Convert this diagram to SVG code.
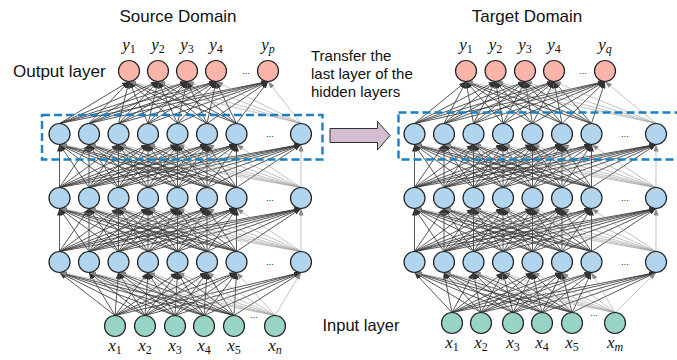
<svg xmlns="http://www.w3.org/2000/svg" xmlns:xlink="http://www.w3.org/1999/xlink" width="677" height="360" viewBox="0 0 677 360">
<style>
.o{fill:#fab5ab;stroke:#222;stroke-width:1.2}
.h{fill:#b1d4ef;stroke:#222;stroke-width:1.2}
.i{fill:#98d4c6;stroke:#222;stroke-width:1.2}
.sans{font-family:"Liberation Sans",Arial,sans-serif;fill:#111}
.lab{font-family:"Liberation Serif","Times New Roman",serif;font-size:17px;text-anchor:middle;fill:#111}
.v{font-style:italic}
.sb{font-size:12px}
.dots{font-family:"Liberation Sans",Arial,sans-serif;font-size:9px;text-anchor:middle;fill:#111}
.box{fill:none;stroke:#1b7fc2;stroke-width:2.4;stroke-dasharray:8 4}
</style>
<defs>
<marker id="ah" markerUnits="userSpaceOnUse" markerWidth="7" markerHeight="5" refX="7" refY="2.5" orient="auto"><path d="M0,0L7,2.5L0,5z" fill="#333"/></marker>
<marker id="al" markerUnits="userSpaceOnUse" markerWidth="7" markerHeight="5" refX="7" refY="2.5" orient="auto"><path d="M0,0L7,2.5L0,5z" fill="#888"/></marker>
<g id="hh">
<g fill="none" stroke="#3a3a3a" stroke-width="0.85" marker-end="url(#ah)">
<path d="M59.5 251.5L59.5 208.5"/><path d="M59.5 251.5L89 208.5"/><path d="M59.5 251.5L118.5 208.5"/><path d="M59.5 251.5L148 208.5"/><path d="M59.5 251.5L177.5 208.5"/><path d="M59.5 251.5L207 208.5"/><path d="M59.5 251.5L236.5 208.5"/><path d="M59.5 251.5L301 208.5"/>
<path d="M89 251.5L59.5 208.5"/><path d="M89 251.5L89 208.5"/><path d="M89 251.5L118.5 208.5"/><path d="M89 251.5L148 208.5"/><path d="M89 251.5L177.5 208.5"/><path d="M89 251.5L207 208.5"/><path d="M89 251.5L236.5 208.5"/><path d="M89 251.5L301 208.5"/>
<path d="M118.5 251.5L59.5 208.5"/><path d="M118.5 251.5L89 208.5"/><path d="M118.5 251.5L118.5 208.5"/><path d="M118.5 251.5L148 208.5"/><path d="M118.5 251.5L177.5 208.5"/><path d="M118.5 251.5L207 208.5"/><path d="M118.5 251.5L236.5 208.5"/><path d="M118.5 251.5L301 208.5"/>
<path d="M148 251.5L59.5 208.5"/><path d="M148 251.5L89 208.5"/><path d="M148 251.5L118.5 208.5"/><path d="M148 251.5L148 208.5"/><path d="M148 251.5L177.5 208.5"/><path d="M148 251.5L207 208.5"/><path d="M148 251.5L236.5 208.5"/><path d="M148 251.5L301 208.5"/>
<path d="M177.5 251.5L59.5 208.5"/><path d="M177.5 251.5L89 208.5"/><path d="M177.5 251.5L118.5 208.5"/><path d="M177.5 251.5L148 208.5"/><path d="M177.5 251.5L177.5 208.5"/><path d="M177.5 251.5L207 208.5"/><path d="M177.5 251.5L236.5 208.5"/><path d="M177.5 251.5L301 208.5"/>
<path d="M207 251.5L59.5 208.5"/><path d="M207 251.5L89 208.5"/><path d="M207 251.5L118.5 208.5"/><path d="M207 251.5L148 208.5"/><path d="M207 251.5L177.5 208.5"/><path d="M207 251.5L207 208.5"/><path d="M207 251.5L236.5 208.5"/><path d="M207 251.5L301 208.5"/>
<path d="M236.5 251.5L59.5 208.5"/><path d="M236.5 251.5L89 208.5"/><path d="M236.5 251.5L118.5 208.5"/><path d="M236.5 251.5L148 208.5"/><path d="M236.5 251.5L177.5 208.5"/><path d="M236.5 251.5L207 208.5"/><path d="M236.5 251.5L236.5 208.5"/><path d="M236.5 251.5L301 208.5"/>
</g>
<g fill="none" stroke="#999" stroke-width="0.6" marker-end="url(#al)">
<path d="M301 251.5L59.5 208.5"/><path d="M301 251.5L89 208.5"/><path d="M301 251.5L118.5 208.5"/><path d="M301 251.5L148 208.5"/><path d="M301 251.5L177.5 208.5"/><path d="M301 251.5L207 208.5"/><path d="M301 251.5L236.5 208.5"/><path d="M301 251.5L301 208.5"/>
</g>
</g>
</defs>
<rect width="677" height="360" fill="#fff"/>

<g id="connectors">
<use xlink:href="#hh" href="#hh"/>
<use xlink:href="#hh" href="#hh" transform="translate(0,-64)"/>
<use xlink:href="#hh" href="#hh" transform="translate(355,0)"/>
<use xlink:href="#hh" href="#hh" transform="translate(355,-64)"/>
<g fill="none" stroke="#3a3a3a" stroke-width="0.85" marker-end="url(#ah)">
<path d="M115 315.5L59.5 272.5"/><path d="M115 315.5L89 272.5"/><path d="M115 315.5L118.5 272.5"/><path d="M115 315.5L148 272.5"/><path d="M115 315.5L177.5 272.5"/><path d="M115 315.5L207 272.5"/><path d="M115 315.5L236.5 272.5"/><path d="M115 315.5L301 272.5"/>
<path d="M145 315.5L59.5 272.5"/><path d="M145 315.5L89 272.5"/><path d="M145 315.5L118.5 272.5"/><path d="M145 315.5L148 272.5"/><path d="M145 315.5L177.5 272.5"/><path d="M145 315.5L207 272.5"/><path d="M145 315.5L236.5 272.5"/><path d="M145 315.5L301 272.5"/>
<path d="M175 315.5L59.5 272.5"/><path d="M175 315.5L89 272.5"/><path d="M175 315.5L118.5 272.5"/><path d="M175 315.5L148 272.5"/><path d="M175 315.5L177.5 272.5"/><path d="M175 315.5L207 272.5"/><path d="M175 315.5L236.5 272.5"/><path d="M175 315.5L301 272.5"/>
<path d="M204 315.5L59.5 272.5"/><path d="M204 315.5L89 272.5"/><path d="M204 315.5L118.5 272.5"/><path d="M204 315.5L148 272.5"/><path d="M204 315.5L177.5 272.5"/><path d="M204 315.5L207 272.5"/><path d="M204 315.5L236.5 272.5"/><path d="M204 315.5L301 272.5"/>
<path d="M234 315.5L59.5 272.5"/><path d="M234 315.5L89 272.5"/><path d="M234 315.5L118.5 272.5"/><path d="M234 315.5L148 272.5"/><path d="M234 315.5L177.5 272.5"/><path d="M234 315.5L207 272.5"/><path d="M234 315.5L236.5 272.5"/><path d="M234 315.5L301 272.5"/>
<path d="M59.5 123.5L129 81.5"/><path d="M59.5 123.5L158 81.5"/><path d="M59.5 123.5L187 81.5"/><path d="M59.5 123.5L216 81.5"/><path d="M59.5 123.5L268 81.5"/>
<path d="M89 123.5L129 81.5"/><path d="M89 123.5L158 81.5"/><path d="M89 123.5L187 81.5"/><path d="M89 123.5L216 81.5"/><path d="M89 123.5L268 81.5"/>
<path d="M118.5 123.5L129 81.5"/><path d="M118.5 123.5L158 81.5"/><path d="M118.5 123.5L187 81.5"/><path d="M118.5 123.5L216 81.5"/><path d="M118.5 123.5L268 81.5"/>
<path d="M148 123.5L129 81.5"/><path d="M148 123.5L158 81.5"/><path d="M148 123.5L187 81.5"/><path d="M148 123.5L216 81.5"/><path d="M148 123.5L268 81.5"/>
<path d="M177.5 123.5L129 81.5"/><path d="M177.5 123.5L158 81.5"/><path d="M177.5 123.5L187 81.5"/><path d="M177.5 123.5L216 81.5"/><path d="M177.5 123.5L268 81.5"/>
<path d="M207 123.5L129 81.5"/><path d="M207 123.5L158 81.5"/><path d="M207 123.5L187 81.5"/><path d="M207 123.5L216 81.5"/><path d="M207 123.5L268 81.5"/>
<path d="M236.5 123.5L129 81.5"/><path d="M236.5 123.5L158 81.5"/><path d="M236.5 123.5L187 81.5"/><path d="M236.5 123.5L216 81.5"/><path d="M236.5 123.5L268 81.5"/>
<path d="M452 312.5L414.5 272.5"/><path d="M452 312.5L444 272.5"/><path d="M452 312.5L473.5 272.5"/><path d="M452 312.5L503 272.5"/><path d="M452 312.5L532.5 272.5"/><path d="M452 312.5L562 272.5"/><path d="M452 312.5L591.5 272.5"/><path d="M452 312.5L656 272.5"/>
<path d="M481 312.5L414.5 272.5"/><path d="M481 312.5L444 272.5"/><path d="M481 312.5L473.5 272.5"/><path d="M481 312.5L503 272.5"/><path d="M481 312.5L532.5 272.5"/><path d="M481 312.5L562 272.5"/><path d="M481 312.5L591.5 272.5"/><path d="M481 312.5L656 272.5"/>
<path d="M513 312.5L414.5 272.5"/><path d="M513 312.5L444 272.5"/><path d="M513 312.5L473.5 272.5"/><path d="M513 312.5L503 272.5"/><path d="M513 312.5L532.5 272.5"/><path d="M513 312.5L562 272.5"/><path d="M513 312.5L591.5 272.5"/><path d="M513 312.5L656 272.5"/>
<path d="M542 312.5L414.5 272.5"/><path d="M542 312.5L444 272.5"/><path d="M542 312.5L473.5 272.5"/><path d="M542 312.5L503 272.5"/><path d="M542 312.5L532.5 272.5"/><path d="M542 312.5L562 272.5"/><path d="M542 312.5L591.5 272.5"/><path d="M542 312.5L656 272.5"/>
<path d="M572 312.5L414.5 272.5"/><path d="M572 312.5L444 272.5"/><path d="M572 312.5L473.5 272.5"/><path d="M572 312.5L503 272.5"/><path d="M572 312.5L532.5 272.5"/><path d="M572 312.5L562 272.5"/><path d="M572 312.5L591.5 272.5"/><path d="M572 312.5L656 272.5"/>
<path d="M414.5 123.5L466 81.5"/><path d="M414.5 123.5L495.5 81.5"/><path d="M414.5 123.5L525 81.5"/><path d="M414.5 123.5L554 81.5"/><path d="M414.5 123.5L605 81.5"/>
<path d="M444 123.5L466 81.5"/><path d="M444 123.5L495.5 81.5"/><path d="M444 123.5L525 81.5"/><path d="M444 123.5L554 81.5"/><path d="M444 123.5L605 81.5"/>
<path d="M473.5 123.5L466 81.5"/><path d="M473.5 123.5L495.5 81.5"/><path d="M473.5 123.5L525 81.5"/><path d="M473.5 123.5L554 81.5"/><path d="M473.5 123.5L605 81.5"/>
<path d="M503 123.5L466 81.5"/><path d="M503 123.5L495.5 81.5"/><path d="M503 123.5L525 81.5"/><path d="M503 123.5L554 81.5"/><path d="M503 123.5L605 81.5"/>
<path d="M532.5 123.5L466 81.5"/><path d="M532.5 123.5L495.5 81.5"/><path d="M532.5 123.5L525 81.5"/><path d="M532.5 123.5L554 81.5"/><path d="M532.5 123.5L605 81.5"/>
<path d="M562 123.5L466 81.5"/><path d="M562 123.5L495.5 81.5"/><path d="M562 123.5L525 81.5"/><path d="M562 123.5L554 81.5"/><path d="M562 123.5L605 81.5"/>
<path d="M591.5 123.5L466 81.5"/><path d="M591.5 123.5L495.5 81.5"/><path d="M591.5 123.5L525 81.5"/><path d="M591.5 123.5L554 81.5"/><path d="M591.5 123.5L605 81.5"/>
</g>
<g fill="none" stroke="#999" stroke-width="0.6" marker-end="url(#al)">
<path d="M275 315.5L59.5 272.5"/><path d="M275 315.5L89 272.5"/><path d="M275 315.5L118.5 272.5"/><path d="M275 315.5L148 272.5"/><path d="M275 315.5L177.5 272.5"/><path d="M275 315.5L207 272.5"/><path d="M275 315.5L236.5 272.5"/><path d="M275 315.5L301 272.5"/>
<path d="M301 123.5L129 81.5"/><path d="M301 123.5L158 81.5"/><path d="M301 123.5L187 81.5"/><path d="M301 123.5L216 81.5"/><path d="M301 123.5L268 81.5"/>
<path d="M615 312.5L414.5 272.5"/><path d="M615 312.5L444 272.5"/><path d="M615 312.5L473.5 272.5"/><path d="M615 312.5L503 272.5"/><path d="M615 312.5L532.5 272.5"/><path d="M615 312.5L562 272.5"/><path d="M615 312.5L591.5 272.5"/><path d="M615 312.5L656 272.5"/>
<path d="M656 123.5L466 81.5"/><path d="M656 123.5L495.5 81.5"/><path d="M656 123.5L525 81.5"/><path d="M656 123.5L554 81.5"/><path d="M656 123.5L605 81.5"/>
</g>
</g>

<g id="transfer-boxes">
<rect class="box" x="42" y="115" width="280.5" height="44.5"/>
<rect class="box" x="398.5" y="112.5" width="282" height="47"/>
</g>
<g id="transfer-arrow">
<path d="M330 128.5H377.5V121.5L390 135.5L377.5 150V142.5H330Z" fill="#d5bdd2" stroke="#333" stroke-width="1"/>
</g>

<g id="titles" class="sans">
<text x="178" y="22" font-size="17" text-anchor="middle">Source Domain</text>
<text x="527" y="22" font-size="17" text-anchor="middle">Target Domain</text>
<text x="13" y="77" font-size="17">Output layer</text>
<text x="322.5" y="331" font-size="16.5">Input layer</text>
<text x="311" y="61" font-size="15">Transfer the</text>
<text x="311" y="79" font-size="15">last layer of the</text>
<text x="311" y="97" font-size="15">hidden layers</text>
</g>

<g id="dots" class="dots">
<text x="246" y="74">...</text>
<text x="270" y="137">...</text>
<text x="270" y="201">...</text>
<text x="270" y="265">...</text>
<text x="254" y="318">...</text>
<text x="583" y="74">...</text>
<text x="625" y="137">...</text>
<text x="625" y="201">...</text>
<text x="625" y="265">...</text>
<text x="594" y="316">...</text>
</g>

<g id="src-out-1"><circle class="o" cx="129" cy="71" r="10.5"/><text class="lab" x="129" y="50"><tspan class="v">y</tspan><tspan class="sb" dy="3">1</tspan></text></g>
<g id="src-out-2"><circle class="o" cx="158" cy="71" r="10.5"/><text class="lab" x="158" y="50"><tspan class="v">y</tspan><tspan class="sb" dy="3">2</tspan></text></g>
<g id="src-out-3"><circle class="o" cx="187" cy="71" r="10.5"/><text class="lab" x="187" y="50"><tspan class="v">y</tspan><tspan class="sb" dy="3">3</tspan></text></g>
<g id="src-out-4"><circle class="o" cx="216" cy="71" r="10.5"/><text class="lab" x="216" y="50"><tspan class="v">y</tspan><tspan class="sb" dy="3">4</tspan></text></g>
<g id="src-out-p"><circle class="o" cx="268" cy="71" r="10.5"/><text class="lab" x="268" y="50"><tspan class="v">y</tspan><tspan class="sb v" dy="3">p</tspan></text></g>

<g id="src-h1-1"><circle class="h" cx="59.5" cy="134" r="10.5"/></g>
<g id="src-h1-2"><circle class="h" cx="89" cy="134" r="10.5"/></g>
<g id="src-h1-3"><circle class="h" cx="118.5" cy="134" r="10.5"/></g>
<g id="src-h1-4"><circle class="h" cx="148" cy="134" r="10.5"/></g>
<g id="src-h1-5"><circle class="h" cx="177.5" cy="134" r="10.5"/></g>
<g id="src-h1-6"><circle class="h" cx="207" cy="134" r="10.5"/></g>
<g id="src-h1-7"><circle class="h" cx="236.5" cy="134" r="10.5"/></g>
<g id="src-h1-n"><circle class="h" cx="301" cy="134" r="10.5"/></g>
<g id="src-h2-1"><circle class="h" cx="59.5" cy="198" r="10.5"/></g>
<g id="src-h2-2"><circle class="h" cx="89" cy="198" r="10.5"/></g>
<g id="src-h2-3"><circle class="h" cx="118.5" cy="198" r="10.5"/></g>
<g id="src-h2-4"><circle class="h" cx="148" cy="198" r="10.5"/></g>
<g id="src-h2-5"><circle class="h" cx="177.5" cy="198" r="10.5"/></g>
<g id="src-h2-6"><circle class="h" cx="207" cy="198" r="10.5"/></g>
<g id="src-h2-7"><circle class="h" cx="236.5" cy="198" r="10.5"/></g>
<g id="src-h2-n"><circle class="h" cx="301" cy="198" r="10.5"/></g>
<g id="src-h3-1"><circle class="h" cx="59.5" cy="262" r="10.5"/></g>
<g id="src-h3-2"><circle class="h" cx="89" cy="262" r="10.5"/></g>
<g id="src-h3-3"><circle class="h" cx="118.5" cy="262" r="10.5"/></g>
<g id="src-h3-4"><circle class="h" cx="148" cy="262" r="10.5"/></g>
<g id="src-h3-5"><circle class="h" cx="177.5" cy="262" r="10.5"/></g>
<g id="src-h3-6"><circle class="h" cx="207" cy="262" r="10.5"/></g>
<g id="src-h3-7"><circle class="h" cx="236.5" cy="262" r="10.5"/></g>
<g id="src-h3-n"><circle class="h" cx="301" cy="262" r="10.5"/></g>

<g id="src-in-1"><circle class="i" cx="115" cy="326" r="10.5"/><text class="lab" x="115" y="351"><tspan class="v">x</tspan><tspan class="sb" dy="3">1</tspan></text></g>
<g id="src-in-2"><circle class="i" cx="145" cy="326" r="10.5"/><text class="lab" x="145" y="351"><tspan class="v">x</tspan><tspan class="sb" dy="3">2</tspan></text></g>
<g id="src-in-3"><circle class="i" cx="175" cy="326" r="10.5"/><text class="lab" x="175" y="351"><tspan class="v">x</tspan><tspan class="sb" dy="3">3</tspan></text></g>
<g id="src-in-4"><circle class="i" cx="204" cy="326" r="10.5"/><text class="lab" x="204" y="351"><tspan class="v">x</tspan><tspan class="sb" dy="3">4</tspan></text></g>
<g id="src-in-5"><circle class="i" cx="234" cy="326" r="10.5"/><text class="lab" x="234" y="351"><tspan class="v">x</tspan><tspan class="sb" dy="3">5</tspan></text></g>
<g id="src-in-n"><circle class="i" cx="275" cy="326" r="10.5"/><text class="lab" x="275" y="351"><tspan class="v">x</tspan><tspan class="sb v" dy="3">n</tspan></text></g>

<g id="tgt-out-1"><circle class="o" cx="466" cy="71" r="10.5"/><text class="lab" x="466" y="50"><tspan class="v">y</tspan><tspan class="sb" dy="3">1</tspan></text></g>
<g id="tgt-out-2"><circle class="o" cx="495.5" cy="71" r="10.5"/><text class="lab" x="495.5" y="50"><tspan class="v">y</tspan><tspan class="sb" dy="3">2</tspan></text></g>
<g id="tgt-out-3"><circle class="o" cx="525" cy="71" r="10.5"/><text class="lab" x="525" y="50"><tspan class="v">y</tspan><tspan class="sb" dy="3">3</tspan></text></g>
<g id="tgt-out-4"><circle class="o" cx="554" cy="71" r="10.5"/><text class="lab" x="554" y="50"><tspan class="v">y</tspan><tspan class="sb" dy="3">4</tspan></text></g>
<g id="tgt-out-q"><circle class="o" cx="605" cy="71" r="10.5"/><text class="lab" x="605" y="50"><tspan class="v">y</tspan><tspan class="sb v" dy="3">q</tspan></text></g>

<g id="tgt-h1-1"><circle class="h" cx="414.5" cy="134" r="10.5"/></g>
<g id="tgt-h1-2"><circle class="h" cx="444" cy="134" r="10.5"/></g>
<g id="tgt-h1-3"><circle class="h" cx="473.5" cy="134" r="10.5"/></g>
<g id="tgt-h1-4"><circle class="h" cx="503" cy="134" r="10.5"/></g>
<g id="tgt-h1-5"><circle class="h" cx="532.5" cy="134" r="10.5"/></g>
<g id="tgt-h1-6"><circle class="h" cx="562" cy="134" r="10.5"/></g>
<g id="tgt-h1-7"><circle class="h" cx="591.5" cy="134" r="10.5"/></g>
<g id="tgt-h1-n"><circle class="h" cx="656" cy="134" r="10.5"/></g>
<g id="tgt-h2-1"><circle class="h" cx="414.5" cy="198" r="10.5"/></g>
<g id="tgt-h2-2"><circle class="h" cx="444" cy="198" r="10.5"/></g>
<g id="tgt-h2-3"><circle class="h" cx="473.5" cy="198" r="10.5"/></g>
<g id="tgt-h2-4"><circle class="h" cx="503" cy="198" r="10.5"/></g>
<g id="tgt-h2-5"><circle class="h" cx="532.5" cy="198" r="10.5"/></g>
<g id="tgt-h2-6"><circle class="h" cx="562" cy="198" r="10.5"/></g>
<g id="tgt-h2-7"><circle class="h" cx="591.5" cy="198" r="10.5"/></g>
<g id="tgt-h2-n"><circle class="h" cx="656" cy="198" r="10.5"/></g>
<g id="tgt-h3-1"><circle class="h" cx="414.5" cy="262" r="10.5"/></g>
<g id="tgt-h3-2"><circle class="h" cx="444" cy="262" r="10.5"/></g>
<g id="tgt-h3-3"><circle class="h" cx="473.5" cy="262" r="10.5"/></g>
<g id="tgt-h3-4"><circle class="h" cx="503" cy="262" r="10.5"/></g>
<g id="tgt-h3-5"><circle class="h" cx="532.5" cy="262" r="10.5"/></g>
<g id="tgt-h3-6"><circle class="h" cx="562" cy="262" r="10.5"/></g>
<g id="tgt-h3-7"><circle class="h" cx="591.5" cy="262" r="10.5"/></g>
<g id="tgt-h3-n"><circle class="h" cx="656" cy="262" r="10.5"/></g>

<g id="tgt-in-1"><circle class="i" cx="452" cy="323" r="10.5"/><text class="lab" x="452" y="348"><tspan class="v">x</tspan><tspan class="sb" dy="3">1</tspan></text></g>
<g id="tgt-in-2"><circle class="i" cx="481" cy="323" r="10.5"/><text class="lab" x="481" y="348"><tspan class="v">x</tspan><tspan class="sb" dy="3">2</tspan></text></g>
<g id="tgt-in-3"><circle class="i" cx="513" cy="323" r="10.5"/><text class="lab" x="513" y="348"><tspan class="v">x</tspan><tspan class="sb" dy="3">3</tspan></text></g>
<g id="tgt-in-4"><circle class="i" cx="542" cy="323" r="10.5"/><text class="lab" x="542" y="348"><tspan class="v">x</tspan><tspan class="sb" dy="3">4</tspan></text></g>
<g id="tgt-in-5"><circle class="i" cx="572" cy="323" r="10.5"/><text class="lab" x="572" y="348"><tspan class="v">x</tspan><tspan class="sb" dy="3">5</tspan></text></g>
<g id="tgt-in-m"><circle class="i" cx="615" cy="323" r="10.5"/><text class="lab" x="615" y="348"><tspan class="v">x</tspan><tspan class="sb v" dy="3">m</tspan></text></g>
</svg>
